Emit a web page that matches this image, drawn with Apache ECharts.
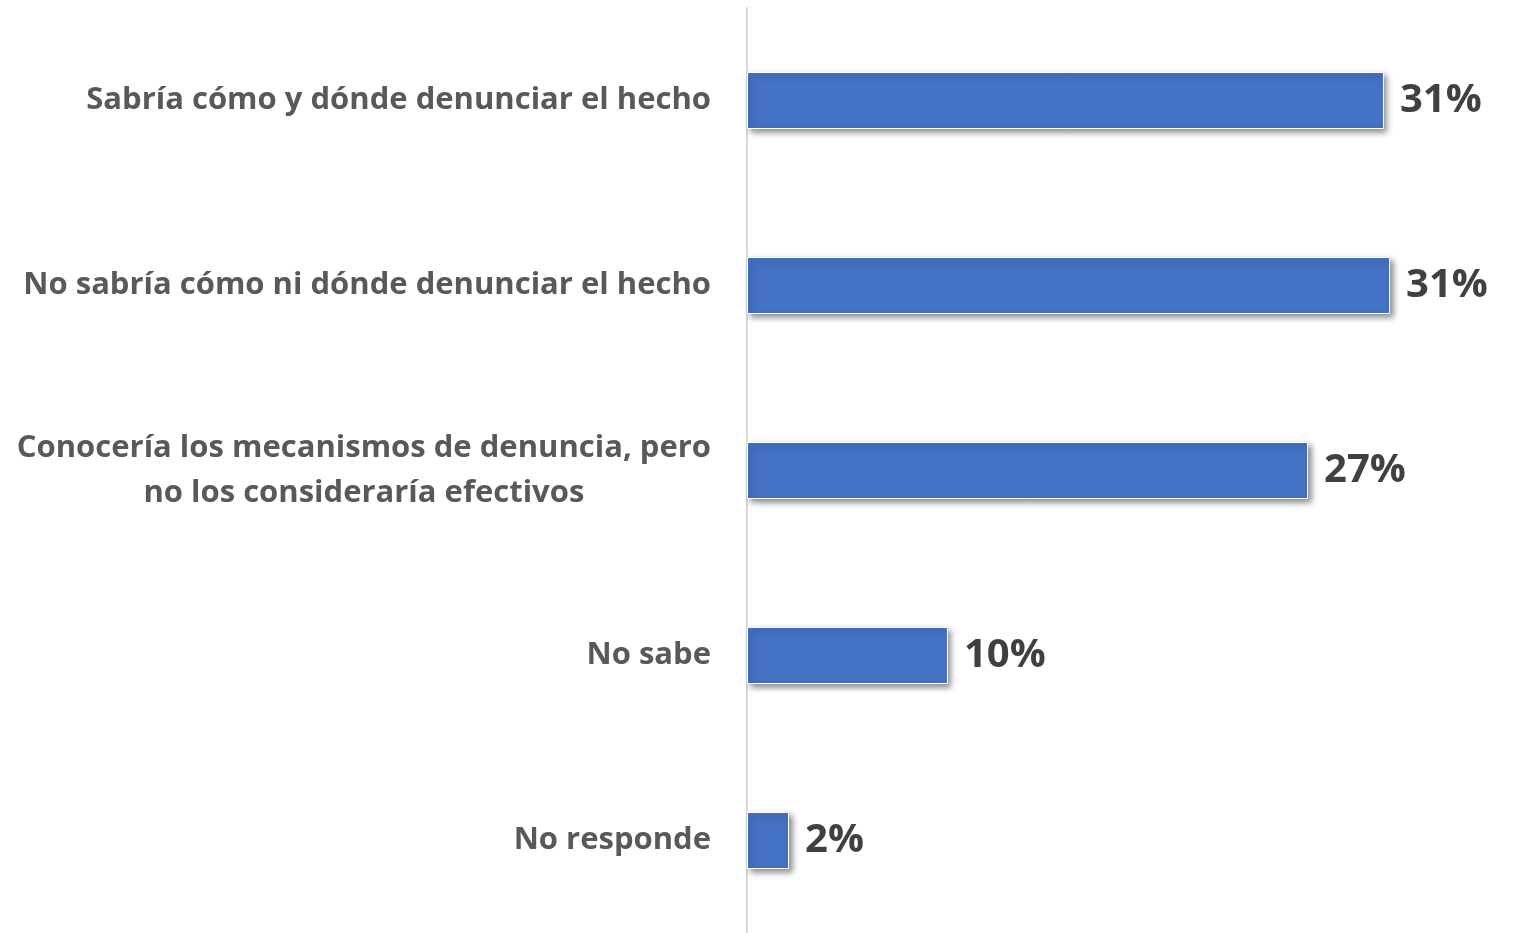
<!DOCTYPE html>
<html>
<head>
<meta charset="utf-8">
<script src="https://cdn.jsdelivr.net/npm/echarts@6/dist/echarts.min.js"></script>
<style>html,body{margin:0;padding:0;background:#fff;}#c{width:1519px;height:933px;}</style>
</head>
<body>
<div id="c"></div>
<script>
const categories = [
  "Sabría cómo y dónde denunciar el hecho",
  "No sabría cómo ni dónde denunciar el hecho",
  "Conocería los mecanismos de denuncia, pero\nno los consideraría efectivos",
  "No sabe",
  "No responde"
];
const values = [31.07, 31.37, 27.37, 9.8, 2.05];

const chart = echarts.init(document.getElementById('c'));
chart.setOption({
  animation: false,
  backgroundColor: '#ffffff',
  grid: { left: 747, right: 13.5, top: 8, height: 930, containLabel: false },
  xAxis: { type: 'value', min: 0, max: 37, show: false },
  yAxis: {
    type: 'category',
    data: categories,
    inverse: true,
    axisTick: { show: false },
    axisLine: { show: true, lineStyle: { color: '#d9d9d9', width: 2 } },
    axisLabel: {
      margin: 36,
      formatter: function (v) {
        return v.split('\n').map(function (l) { return '{c|' + l + '}'; }).join('\n');
      },
      rich: {
        c: {
          align: 'center',
          fontFamily: 'Open Sans',
          fontWeight: 'bold',
          fontSize: 31,
          lineHeight: 45,
          color: '#595959'
        }
      }
    }
  },
  series: [{
    type: 'bar',
    data: values,
    barWidth: 57,
    itemStyle: {
      color: '#4472C4',
      borderColor: '#ffffff',
      borderWidth: 1,
      shadowColor: 'rgba(0,0,0,0.45)',
      shadowBlur: 6,
      shadowOffsetX: 3,
      shadowOffsetY: 3
    },
    label: {
      show: true,
      position: 'right',
      distance: 16,
      fontFamily: 'Open Sans',
      fontWeight: 'bold',
      fontSize: 40,
      color: '#404040',
      formatter: function (p) { return Math.round(p.value) + '%'; }
    }
  }]
});
</script>
</body>
</html>
